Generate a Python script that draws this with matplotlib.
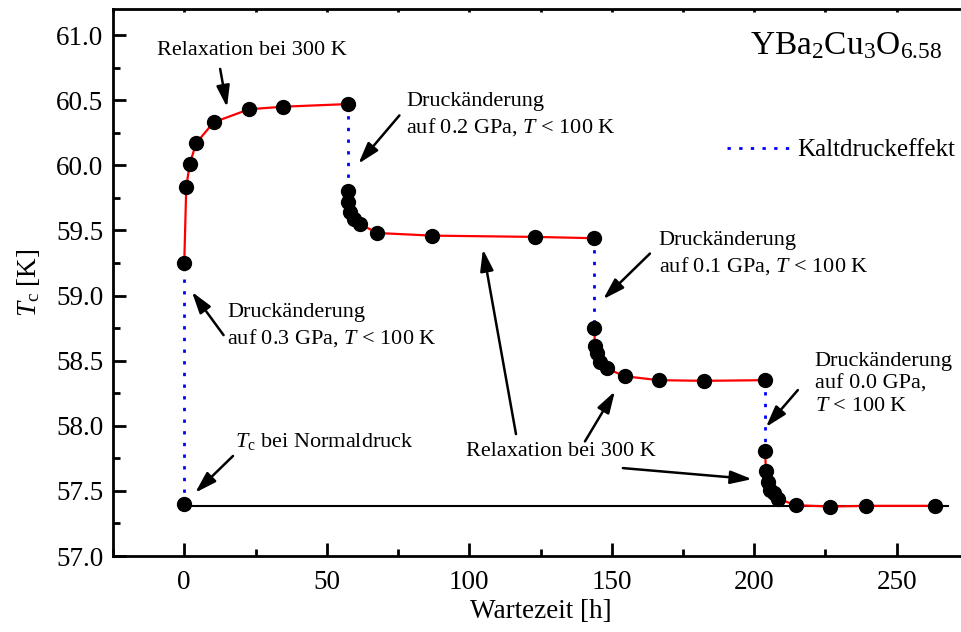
import matplotlib
matplotlib.use("Agg")
import matplotlib.pyplot as plt
import matplotlib.ticker as ticker

plt.rcParams["font.family"] = "Liberation Serif"
plt.rcParams["mathtext.fontset"] = "custom"
plt.rcParams["mathtext.rm"] = "Liberation Serif"
plt.rcParams["mathtext.it"] = "Liberation Serif:italic"
plt.rcParams["font.size"] = 18

# Tc relaxation after each pressure change (Wartezeit in h, Tc in K)
seg1_t = [0.0, 0.7, 1.9, 4.2, 10.3, 22.7, 34.8, 57.4]
seg1_tc = [59.25, 59.83, 60.01, 60.17, 60.33, 60.43, 60.45, 60.47]

seg2_t = [57.4, 57.6, 58.2, 59.6, 61.5, 67.8, 86.9, 123.1, 143.9]
seg2_tc = [59.80, 59.72, 59.64, 59.59, 59.55, 59.48, 59.46, 59.45, 59.44]

seg3_t = [143.9, 144.1, 144.9, 145.9, 148.2, 154.6, 166.5, 182.4, 203.8]
seg3_tc = [58.75, 58.61, 58.56, 58.49, 58.44, 58.38, 58.35, 58.345, 58.35]

seg4_t = [203.8, 204.1, 204.7, 205.5, 206.9, 208.4, 214.5, 226.5, 239.3, 263.4]
seg4_tc = [57.81, 57.65, 57.57, 57.51, 57.48, 57.44, 57.39, 57.38, 57.385, 57.385]

# Tc at ambient pressure
normal_t = [0.0]
normal_tc = [57.40]
baseline_t = [0.0, 268.0]
baseline_tc = [57.385, 57.385]

segments = [(seg1_t, seg1_tc), (seg2_t, seg2_tc), (seg3_t, seg3_tc), (seg4_t, seg4_tc)]

fig = plt.figure(figsize=(9.62, 6.32), dpi=100)
ax = fig.add_axes([113 / 962, 76 / 632, 855 / 962, 547 / 632])

ax.plot(baseline_t, baseline_tc, color="black", lw=1.5, zorder=2)

# cold pressure jumps (blue dotted)
starts = [(normal_t[0], normal_tc[0])] + [(s[0][-1], s[1][-1]) for s in segments[:-1]]
ends = [(s[0][0], s[1][0]) for s in segments]
dot_style = (0, (1.2, 3.0))
for i, ((x0, y0), (x1, y1)) in enumerate(zip(starts, ends)):
    ax.plot([x0, x1], [y0, y1], color="#0000ff", lw=2.0, linestyle=dot_style,
            label="Kaltdruckeffekt" if i == 0 else None, zorder=3)

for t, tc in segments:
    ax.plot(t, tc, color="red", lw=1.6, zorder=3)
    ax.plot(t, tc, "o", color="black", ms=10, zorder=4)
ax.plot(normal_t, normal_tc, "o", color="black", ms=10, zorder=4)

ax.set_xlim(-25, 275)
ax.set_ylim(57.0, 61.2)
ax.xaxis.set_major_locator(ticker.MultipleLocator(50))
ax.xaxis.set_minor_locator(ticker.MultipleLocator(25))
ax.yaxis.set_major_locator(ticker.MultipleLocator(0.5))
ax.yaxis.set_minor_locator(ticker.MultipleLocator(0.25))
ax.yaxis.set_major_formatter(ticker.FormatStrFormatter("%.1f"))

for s in ax.spines.values():
    s.set_linewidth(2.0)
ax.spines["right"].set_visible(False)
ax.tick_params(which="both", direction="in", width=2.0, labelsize=19.5, top=True)
ax.tick_params(which="major", length=9.5)
ax.tick_params(which="minor", length=5)
ax.tick_params(axis="x", which="major", pad=10)
ax.tick_params(axis="y", which="major", pad=7)
# short ticks on the top spine
for line in ax.xaxis.get_majorticklines()[1::2] + ax.xaxis.get_minorticklines()[1::2]:
    line.set_markersize(2)

ax.set_xlabel("Wartezeit [h]", fontsize=19.5)
ax.set_ylabel(r"$T_\mathrm{c}$ [K]", fontsize=19.5)
ax.xaxis.set_label_coords(0.5, -0.078)
ax.yaxis.set_label_coords(-0.083, 0.5)

ax.text(198.5, 60.85, r"$\mathrm{YBa_2Cu_3O_{6.58}}$", fontsize=24, ha="left", va="baseline")

leg = ax.legend(loc="center left", bbox_to_anchor=(0.718, 0.742), frameon=False,
                fontsize=18, handlelength=2.5, handletextpad=0.3, borderpad=0,
                borderaxespad=0)

fs = 16
arrow = dict(arrowstyle="-|>,head_length=0.65,head_width=0.2", color="black",
             lw=1.8, mutation_scale=20, shrinkA=0, shrinkB=0)


def arr(tip, tail):
    ax.annotate("", xy=tip, xytext=tail, arrowprops=arrow, zorder=5)


ax.text(23.7, 60.88, "Relaxation bei 300 K", fontsize=fs, ha="center", va="center")
arr((15.0, 60.446), (12.6, 60.74))

ax.text(77.8, 60.383, "Druckänderung\nauf 0.2 GPa, $T$ < 100 K", fontsize=fs,
        ha="left", va="center", linespacing=1.3)
arr((61.1, 60.012), (75.5, 60.383))

ax.text(166.5, 59.317, "Druckänderung\nauf 0.1 GPa, $T$ < 100 K", fontsize=fs,
        ha="left", va="center", linespacing=1.3)
arr((147.0, 58.972), (163.4, 59.322))

ax.text(221.2, 58.32, "Druckänderung\nauf 0.0 GPa,\n$T$ < 100 K", fontsize=fs,
        ha="left", va="center", linespacing=1.25)
arr((204.1, 57.99), (215.3, 58.274))

ax.text(15.0, 58.766, "Druckänderung\nauf 0.3 GPa, $T$ < 100 K", fontsize=fs,
        ha="left", va="center", linespacing=1.3)
arr((2.7, 59.028), (13.8, 58.696))

ax.text(17.9, 57.88, r"$T_\mathrm{c}$ bei Normaldruck", fontsize=fs, ha="left", va="center")
arr((3.86, 57.486), (17.1, 57.768))

ax.text(98.9, 57.80, "Relaxation bei 300 K", fontsize=fs, ha="left", va="center")
arr((104.8, 59.355), (116.4, 57.936))
arr((151.1, 58.264), (140.6, 57.88))
arr((199.2, 57.59), (153.9, 57.675))

fig.savefig("out.png", dpi=100)
